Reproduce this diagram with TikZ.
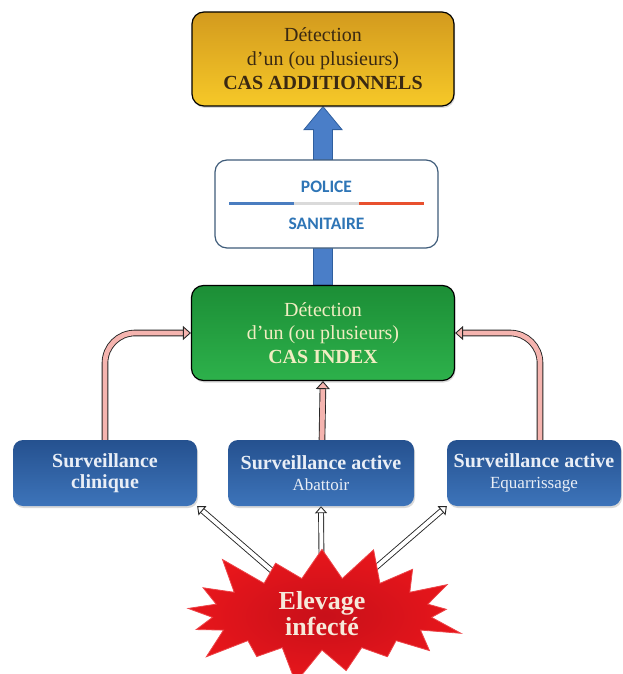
\documentclass[tikz,border=0pt]{standalone}
\usepackage{fontspec}
\setmainfont{Liberation Serif}
\newfontfamily\calib{Carlito}
\usetikzlibrary{arrows.meta,shapes.symbols,shadows,calc,backgrounds}
\definecolor{goldtop}{HTML}{D39A1E}
\definecolor{goldbot}{HTML}{F6C928}
\definecolor{goldtext}{HTML}{3A2912}
\definecolor{greentop}{HTML}{1C8E36}
\definecolor{greenbot}{HTML}{2DB14B}
\definecolor{greentext}{HTML}{F1EDC2}
\definecolor{bluetop}{HTML}{25518F}
\definecolor{bluebot}{HTML}{3D74BA}
\definecolor{bluetext}{HTML}{E9EEF6}
\definecolor{policeblue}{HTML}{2E75B6}
\definecolor{policeborder}{HTML}{3F5C7A}
\definecolor{arrowblue}{HTML}{4A7EC8}
\definecolor{arrowblueb}{HTML}{2F5F9F}
\definecolor{pinkfill}{HTML}{F5B4AF}
\definecolor{flagblue}{HTML}{4A7DC0}
\definecolor{flaggray}{HTML}{DADADA}
\definecolor{flagred}{HTML}{E8502E}
\definecolor{starred}{HTML}{E8161B}
\definecolor{starinner}{HTML}{C8101A}
\definecolor{startext}{HTML}{F6E9DA}
\begin{document}
\begin{tikzpicture}[x=1pt,y=-1pt,
  box/.style={rectangle, rounded corners=12pt, align=center, inner sep=0pt,
    drop shadow={shadow xshift=1pt, shadow yshift=-2pt, opacity=0.3}},
  goldbox/.style={box, draw=black, line width=1.2pt, top color=goldtop, bottom color=goldbot,
    text=goldtext, font=\fontsize{20}{24}\selectfont},
  greenbox/.style={box, draw=black, line width=1.2pt, top color=greentop, bottom color=greenbot,
    text=greentext, font=\fontsize{20}{23.5}\selectfont},
  bluebox/.style={box, rounded corners=10pt, top color=bluetop, bottom color=bluebot,
    text=bluetext, font=\fontsize{20}{21}\selectfont\bfseries},
  policebox/.style={rectangle, rounded corners=12pt, draw=policeborder, line width=1.2pt, fill=white,
    minimum width=223pt, minimum height=88pt},
  policetext/.style={text=policeblue, font=\calib\fontsize{17.5}{20}\selectfont\bfseries, inner sep=0pt},
  flag/.style={line width=3pt},
  pinkarrow/.style={draw=black!85, line width=0.9pt, double=pinkfill, double distance=4.8pt,
    rounded corners=30pt, -{Triangle[length=8pt, width=14pt, fill=pinkfill]}},
  whitearrow/.style={draw=black!85, line width=0.9pt, double=white, double distance=4pt,
    -{Triangle[length=7pt, width=12pt, fill=white]}},
  bigarrow/.style={fill=arrowblue, draw=arrowblueb, line width=0.8pt},
  burst/.style={starburst, starburst points=17, starburst point height=40pt,
    minimum width=300pt, minimum height=140pt, inner color=starinner, outer color=starred,
    draw=starred!80!white, line width=0.8pt, text=startext, align=center,
    font=\fontsize{26}{26}\selectfont\bfseries}
]
\useasboundingbox (0,0) rectangle (623,674);
\pgfmathsetseed{7}

\node[goldbox, minimum width=262pt, minimum height=94pt] (top) at (323,59)
  {Détection\\d’un (ou plusieurs)\\\textbf{CAS ADDITIONNELS}};
\node[greenbox, minimum width=263pt, minimum height=95pt] (green) at (323,333)
  {Détection\\d’un (ou plusieurs)\\\textbf{CAS INDEX}};

\begin{scope}[on background layer]
\draw[bigarrow] ($(green.north)+(-9.5,0)$) -- ($(top.south)+(-9.5,23)$) -- ($(top.south)+(-19,23)$)
  -- (top.south) -- ($(top.south)+(19,23)$) -- ($(top.south)+(9.5,23)$) -- ($(green.north)+(9.5,0)$) -- cycle;
\end{scope}

\node[policebox] (police) at (326.5,204) {};
\node[policetext] (pol) at (326.5,187) {POLICE};
\node[policetext] (san) at (326.5,224) {SANITAIRE};
\coordinate (f0) at ($(police.center)+(-97.5,-1)$);
\coordinate (f1) at ($(police.center)+(-32.5,-1)$);
\coordinate (f2) at ($(police.center)+(32.5,-1)$);
\coordinate (f3) at ($(police.center)+(97.5,-1)$);
\draw[flag, flagblue] (f0) -- (f1);
\draw[flag, flaggray] (f1) -- (f2);
\draw[flag, flagred] (f2) -- (f3);

\node[bluebox, minimum width=184pt, minimum height=66pt] (left) at (105,473)
  {Surveillance\\clinique};
\node[bluebox, minimum width=186pt, minimum height=66pt] (mid) at (321,473)
  {Surveillance active\\{\mdseries\fontsize{17}{21}\selectfont Abattoir}};
\node[bluebox, minimum width=174pt, minimum height=66pt] (right) at (534,473)
  {Surveillance active\\{\mdseries\fontsize{17}{21}\selectfont Equarrissage}};

\draw[pinkarrow] (left.north) |- (green.west);
\draw[pinkarrow] ([xshift=6pt]right.north) |- (green.east);
\draw[pinkarrow, rounded corners=0pt] ([xshift=1pt]mid.north) -- ([xshift=0pt]green.south);

\node[burst] (star) at (322,614) {Elevage\\infecté};

\begin{scope}[on background layer]
\draw[whitearrow] (star.center) -- (left.south east);
\draw[whitearrow] (star.center) -- (mid.south);
\draw[whitearrow] (star.center) -- (right.south west);
\end{scope}
\end{tikzpicture}
\end{document}
